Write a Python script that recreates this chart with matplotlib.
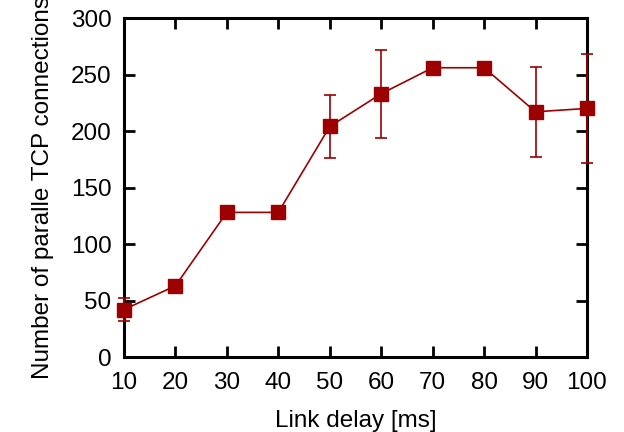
import matplotlib
matplotlib.use("Agg")
import matplotlib.pyplot as plt

delay = [10, 20, 30, 40, 50, 60, 70, 80, 90, 100]
conns = [42, 63, 128, 128, 204, 233, 256, 256, 217, 220]
err = [10, 0, 0, 0, 28, 39, 0, 0, 40, 48]

plt.rcParams['font.family'] = ['Liberation Sans', 'DejaVu Sans']
color = '#9c0000'

fig = plt.figure(figsize=(6.24, 4.32), dpi=100)
ax = fig.add_axes([0.1987, 0.1736, 0.7420, 0.7847])
ax.errorbar(delay, conns, yerr=err, color=color, lw=1.2, marker='s', ms=9.5,
            capsize=4, elinewidth=1.2, capthick=1.2, clip_on=False, zorder=3)
ax.set_xlim(10, 100)
ax.set_ylim(0, 300)
ax.set_xticks(delay)
ax.set_yticks(range(0, 301, 50))
for s in ax.spines.values():
    s.set_linewidth(2.2)
ax.tick_params(direction='in', length=8, width=2, top=True, right=True,
               labelsize=17.5, pad=9)
ax.tick_params(axis='x', pad=11)
ax.set_xlabel('Link delay [ms]', fontsize=17.5, labelpad=11)
ax.set_ylabel('Number of paralle TCP connections', fontsize=17.5, labelpad=12)
fig.savefig('out.png', dpi=100)
